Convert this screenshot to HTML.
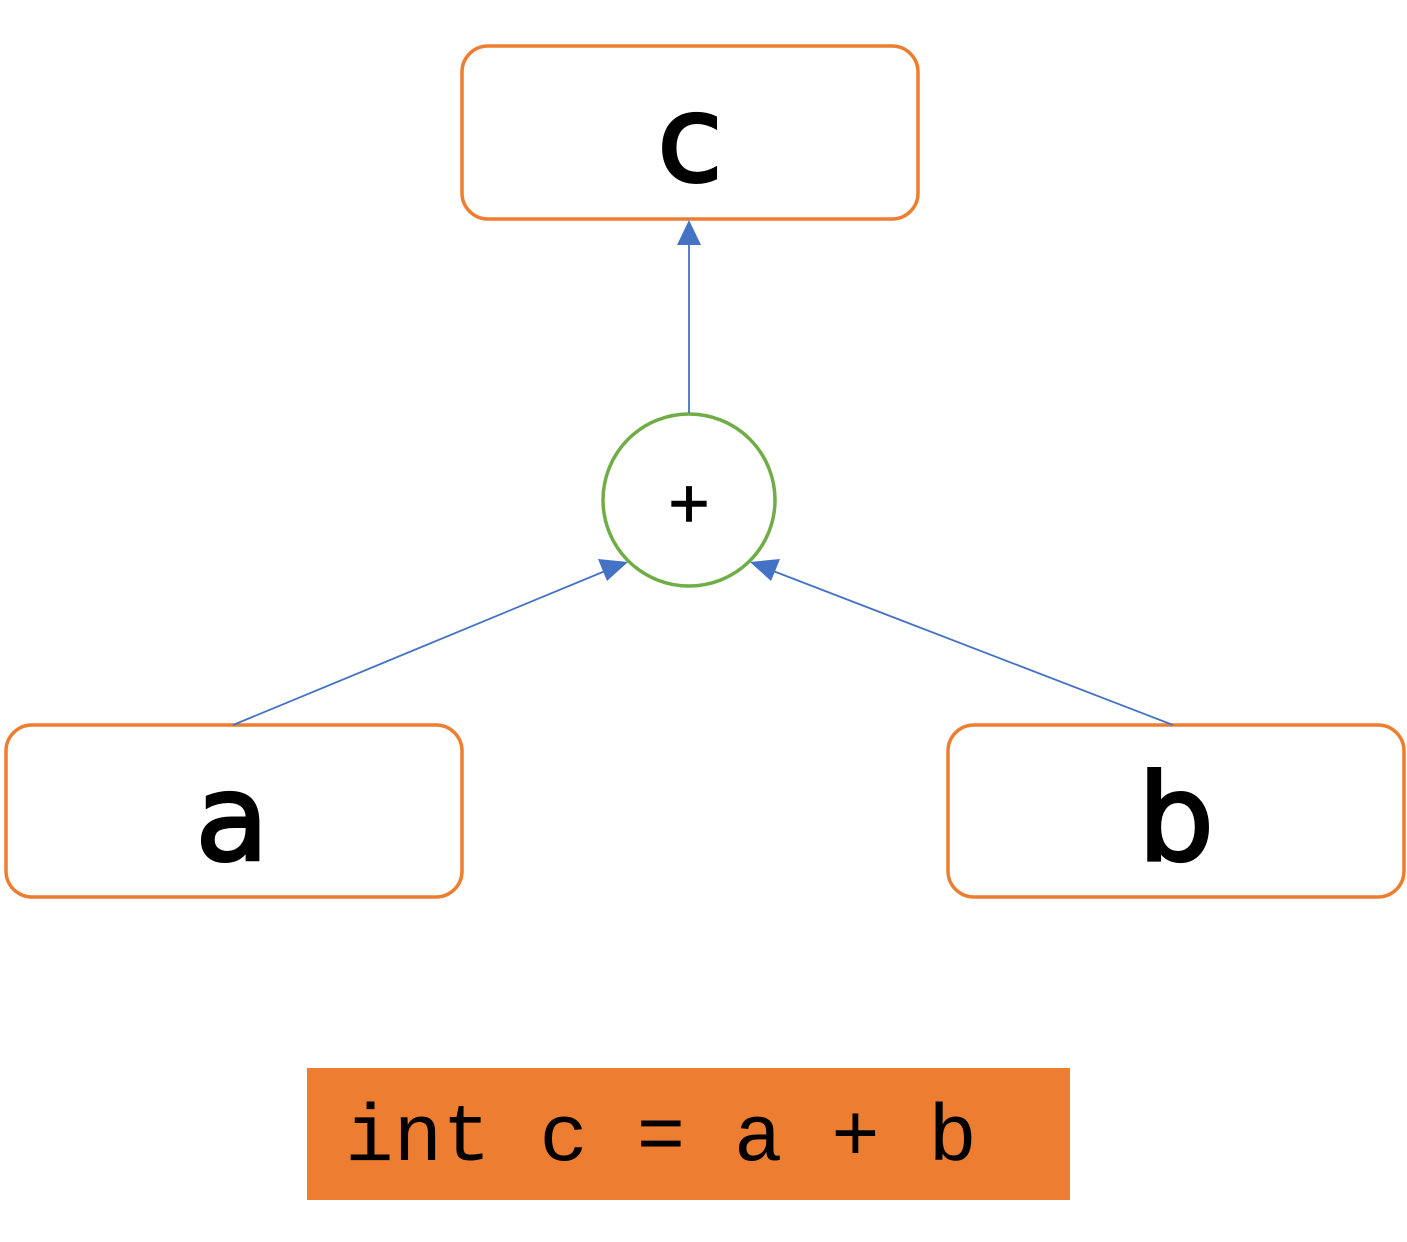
<!DOCTYPE html>
<html><head><meta charset="utf-8"><style>
html,body{margin:0;padding:0;background:#fff;}
</style></head><body>
<svg width="1407" height="1237" viewBox="0 0 1407 1237" xmlns="http://www.w3.org/2000/svg">
<rect x="462" y="46" width="456" height="173" rx="26" fill="#fff" stroke="#ED7D31" stroke-width="3.5"/>
<rect x="6" y="725" width="456" height="172" rx="26" fill="#fff" stroke="#ED7D31" stroke-width="3.5"/>
<rect x="948" y="725" width="456" height="172" rx="26" fill="#fff" stroke="#ED7D31" stroke-width="3.5"/>
<circle cx="689" cy="500" r="86" fill="#fff" stroke="#70AD47" stroke-width="3.5"/>
<line x1="689" y1="413" x2="689" y2="240" stroke="#4472C4" stroke-width="1.8"/>
<polygon points="689,220 677,245 701,245" fill="#4472C4"/>
<line x1="233" y1="725" x2="610" y2="569" stroke="#4472C4" stroke-width="1.8"/>
<polygon points="628,562 598,559 607,581" fill="#4472C4"/>
<line x1="1173" y1="725" x2="768" y2="569" stroke="#4472C4" stroke-width="1.8"/>
<polygon points="750,562 780,559 771,581" fill="#4472C4"/>
<g font-family="DejaVu Sans, Liberation Sans, sans-serif" fill="#000" stroke="#000" stroke-width="3" text-anchor="middle">
<text x="690" y="181" font-size="120">c</text>
<text x="232" y="860" font-size="120">a</text>
<text x="1176" y="860" font-size="120">b</text>
<text x="689" y="521" font-size="54" stroke-width="1.5">+</text>
</g>
<rect x="307" y="1068" width="763" height="132" fill="#ED7D31"/>
<text x="345" y="1160" font-family="Liberation Mono, monospace" font-size="81" fill="#000">int c = a + b</text>
</svg>
</body></html>
